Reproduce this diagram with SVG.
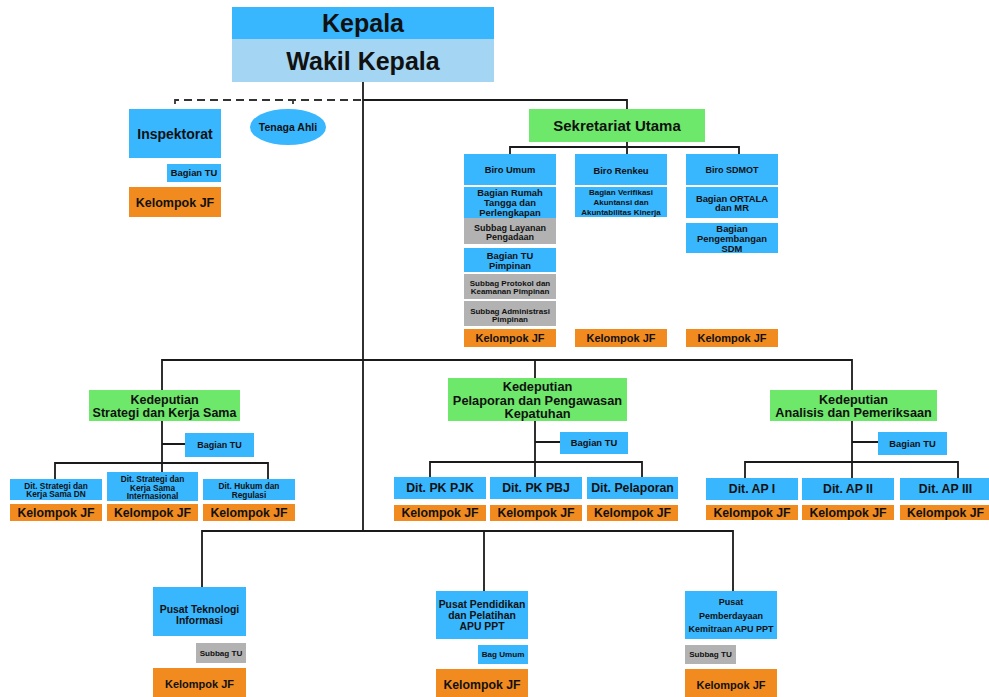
<svg xmlns="http://www.w3.org/2000/svg" width="989" height="697" viewBox="0 0 989 697">
  <style>
    .blue{fill:#38b6fe}
    .pale{fill:#a4d5f2}
    .green{fill:#6ee86a}
    .orange{fill:#f18b1f}
    .grey{fill:#b2b2b2}
    text{font-family:"Liberation Sans",Arial,Helvetica,sans-serif;font-weight:bold;fill:#111;text-anchor:middle}
    .wire{fill:none;stroke:#1a1a1a;stroke-width:1.8}
    .dash{fill:none;stroke:#333;stroke-width:1.8;stroke-dasharray:8 5}
    .f25{font-size:25px}
    .f15{font-size:15px}
    .f14{font-size:14px}
    .f13{font-size:12.8px}
    .f12{font-size:12.3px}
    .f11{font-size:11px}
    .f10{font-size:10.4px}
    .f95{font-size:9.4px}
    .f9{font-size:9px}
    .fdit{font-size:8.3px}
    .f8{font-size:8.1px}
  </style>

  <!-- connectors -->
  <g id="connectors">
    <path class="dash" d="M175,104 V100 H363 M293,104 V100"/>
    <path class="wire" d="M363,82 V531"/>
    <path class="wire" d="M363,100 H627 V109"/>
    <path class="wire" d="M627,142 V154 M510,154 V147 H739 V154"/>
    <path class="wire" d="M162,390 V360 H852 V390 M535,360 V378"/>
    <!-- strategi -->
    <path class="wire" d="M162,421 V463 M162,444 H185 M55,479 V463 H268 V479 M162,463 V472"/>
    <!-- pelaporan -->
    <path class="wire" d="M535,421 V462 M535,442 H560 M430,477 V462 H642 V477 M535,462 V477"/>
    <!-- analisis -->
    <path class="wire" d="M852,421 V462 M852,442 H878 M745,478 V462 H958 V478 M852,462 V478"/>
    <!-- pusat -->
    <path class="wire" d="M202,587 V531 H733 V591 M484,531 V591"/>
  </g>

  <!-- top leadership -->
  <g id="kepala">
    <rect class="blue" x="232" y="7" width="262" height="32"/>
    <text class="f25" x="363" y="32">Kepala</text>
  </g>
  <g id="wakil-kepala">
    <rect class="pale" x="232" y="39" width="262" height="43"/>
    <text class="f25" x="363" y="69.5">Wakil Kepala</text>
  </g>

  <!-- inspektorat -->
  <g id="inspektorat">
    <rect class="blue" x="129" y="109" width="92" height="49"/>
    <text class="f14" x="175" y="138.5">Inspektorat</text>
  </g>
  <g id="inspektorat-tu">
    <rect class="blue" x="167" y="164" width="54" height="18"/>
    <text class="f95" x="194" y="176.3">Bagian TU</text>
  </g>
  <g id="inspektorat-jf">
    <rect class="orange" x="129" y="187" width="92" height="30"/>
    <text style="font-size:12.5px" x="175" y="206.5">Kelompok JF</text>
  </g>
  <g id="tenaga-ahli">
    <ellipse class="blue" cx="288" cy="127" rx="38" ry="18"/>
    <text style="font-size:10.5px" x="288" y="130.7">Tenaga Ahli</text>
  </g>

  <!-- sekretariat utama -->
  <g id="sekretariat-utama">
    <rect class="green" x="529" y="109" width="176" height="33"/>
    <text class="f15" x="617" y="130.8">Sekretariat Utama</text>
  </g>

  <g id="biro-umum">
    <rect class="blue" x="464" y="154" width="92" height="31"/>
    <text class="f95" x="510" y="172.8">Biro Umum</text>
  </g>
  <g id="bagian-rumah-tangga">
    <rect class="blue" x="464" y="187" width="92" height="31"/>
    <text class="f95" x="510" y="195.6">Bagian Rumah</text>
    <text class="f95" x="510" y="205.6">Tangga dan</text>
    <text class="f95" x="510" y="215.6">Perlengkapan</text>
  </g>
  <g id="subbag-layanan-pengadaan">
    <rect class="grey" x="464" y="218" width="92" height="26"/>
    <text class="f9" x="510" y="230.5">Subbag Layanan</text>
    <text class="f9" x="510" y="240.2">Pengadaan</text>
  </g>
  <g id="bagian-tu-pimpinan">
    <rect class="blue" x="464" y="248" width="92" height="24"/>
    <text class="f95" x="510" y="259">Bagian TU</text>
    <text class="f95" x="510" y="269">Pimpinan</text>
  </g>
  <g id="subbag-protokol">
    <rect class="grey" x="464" y="274" width="92" height="25"/>
    <text style="font-size:8px" x="510" y="285.8">Subbag Protokol dan</text>
    <text style="font-size:8px" x="510" y="294.1">Keamanan Pimpinan</text>
  </g>
  <g id="subbag-administrasi">
    <rect class="grey" x="464" y="301" width="92" height="25"/>
    <text style="font-size:8px" x="510" y="313.5">Subbag Administrasi</text>
    <text style="font-size:8px" x="510" y="321.5">Pimpinan</text>
  </g>
  <g id="biro-umum-jf">
    <rect class="orange" x="464" y="329" width="92" height="18"/>
    <text class="f11" x="510" y="341.9">Kelompok JF</text>
  </g>

  <g id="biro-renkeu">
    <rect class="blue" x="575" y="154" width="92" height="31"/>
    <text class="f95" x="621" y="174">Biro Renkeu</text>
  </g>
  <g id="bagian-verifikasi">
    <rect class="blue" x="575" y="187" width="92" height="30"/>
    <text style="font-size:8px" x="621" y="195">Bagian Verifikasi</text>
    <text style="font-size:8px" x="621" y="205">Akuntansi dan</text>
    <text style="font-size:8px" x="621" y="215">Akuntabilitas Kinerja</text>
  </g>
  <g id="biro-renkeu-jf">
    <rect class="orange" x="575" y="329" width="92" height="18"/>
    <text class="f11" x="621" y="341.9">Kelompok JF</text>
  </g>

  <g id="biro-sdmot">
    <rect class="blue" x="686" y="154" width="92" height="31"/>
    <text class="f9" x="732" y="173.2">Biro SDMOT</text>
  </g>
  <g id="bagian-ortala">
    <rect class="blue" x="686" y="187" width="92" height="31"/>
    <text class="f95" x="732" y="201.6">Bagian ORTALA</text>
    <text class="f95" x="732" y="211.3">dan MR</text>
  </g>
  <g id="bagian-pengembangan-sdm">
    <rect class="blue" x="686" y="223" width="92" height="30"/>
    <text class="f95" x="732" y="231.6">Bagian</text>
    <text class="f95" x="732" y="241.6">Pengembangan</text>
    <text class="f95" x="732" y="251.6">SDM</text>
  </g>
  <g id="biro-sdmot-jf">
    <rect class="orange" x="686" y="329" width="92" height="18"/>
    <text class="f11" x="732" y="341.9">Kelompok JF</text>
  </g>

  <!-- kedeputian strategi dan kerja sama -->
  <g id="kedeputian-strategi">
    <rect class="green" x="89" y="390" width="151" height="31"/>
    <text style="font-size:12.5px" x="164.5" y="403.7">Kedeputian</text>
    <text style="font-size:12.5px" x="164.5" y="416.7">Strategi dan Kerja Sama</text>
  </g>
  <g id="strategi-tu">
    <rect class="blue" x="185" y="433" width="69" height="24"/>
    <text class="f9" x="219.5" y="448.2">Bagian TU</text>
  </g>
  <g id="dit-strategi-dn">
    <rect class="blue" x="10" y="479" width="92" height="21"/>
    <text class="fdit" x="56" y="488.5">Dit. Strategi dan</text>
    <text class="fdit" x="56" y="497.3">Kerja Sama DN</text>
  </g>
  <g id="dit-strategi-internasional">
    <rect class="blue" x="107" y="472" width="91" height="29"/>
    <text class="fdit" x="152.5" y="482.3">Dit. Strategi dan</text>
    <text class="fdit" x="152.5" y="490.8">Kerja Sama</text>
    <text class="fdit" x="152.5" y="499.2">Internasional</text>
  </g>
  <g id="dit-hukum">
    <rect class="blue" x="203" y="479" width="92" height="21"/>
    <text class="fdit" x="249" y="488.8">Dit. Hukum dan</text>
    <text class="fdit" x="249" y="497.5">Regulasi</text>
  </g>
  <g id="dit-strategi-dn-jf">
    <rect class="orange" x="10" y="504" width="92" height="17"/>
    <text class="f12" x="56" y="517">Kelompok JF</text>
  </g>
  <g id="dit-strategi-internasional-jf">
    <rect class="orange" x="107" y="504" width="91" height="17"/>
    <text class="f12" x="152.5" y="517">Kelompok JF</text>
  </g>
  <g id="dit-hukum-jf">
    <rect class="orange" x="203" y="504" width="92" height="17"/>
    <text class="f12" x="249" y="517">Kelompok JF</text>
  </g>

  <!-- kedeputian pelaporan dan pengawasan kepatuhan -->
  <g id="kedeputian-pelaporan">
    <rect class="green" x="448" y="378" width="179" height="43"/>
    <text class="f13" x="537.5" y="391.2">Kedeputian</text>
    <text class="f13" x="537.5" y="404.5">Pelaporan dan Pengawasan</text>
    <text class="f13" x="537.5" y="417.8">Kepatuhan</text>
  </g>
  <g id="pelaporan-tu">
    <rect class="blue" x="560" y="432" width="68" height="22"/>
    <text class="f95" x="594" y="446.3">Bagian TU</text>
  </g>
  <g id="dit-pk-pjk">
    <rect class="blue" x="394" y="477" width="92" height="22"/>
    <text class="f12" x="440" y="492.3">Dit. PK PJK</text>
  </g>
  <g id="dit-pk-pbj">
    <rect class="blue" x="490" y="477" width="92" height="22"/>
    <text class="f12" x="536" y="492.3">Dit. PK PBJ</text>
  </g>
  <g id="dit-pelaporan">
    <rect class="blue" x="587" y="477" width="91" height="22"/>
    <text class="f12" x="632.5" y="492.3">Dit. Pelaporan</text>
  </g>
  <g id="dit-pk-pjk-jf">
    <rect class="orange" x="394" y="505" width="92" height="16"/>
    <text class="f12" x="440" y="517.3">Kelompok JF</text>
  </g>
  <g id="dit-pk-pbj-jf">
    <rect class="orange" x="490" y="505" width="92" height="16"/>
    <text class="f12" x="536" y="517.3">Kelompok JF</text>
  </g>
  <g id="dit-pelaporan-jf">
    <rect class="orange" x="587" y="505" width="91" height="16"/>
    <text class="f12" x="632.5" y="517.3">Kelompok JF</text>
  </g>

  <!-- kedeputian analisis dan pemeriksaan -->
  <g id="kedeputian-analisis">
    <rect class="green" x="770" y="390" width="167" height="31"/>
    <text style="font-size:12.7px" x="853.5" y="403.5">Kedeputian</text>
    <text style="font-size:12.7px" x="853.5" y="416.8">Analisis dan Pemeriksaan</text>
  </g>
  <g id="analisis-tu">
    <rect class="blue" x="878" y="432" width="69" height="23"/>
    <text class="f95" x="912.5" y="446.8">Bagian TU</text>
  </g>
  <g id="dit-ap-1">
    <rect class="blue" x="706" y="478" width="92" height="22"/>
    <text class="f12" x="752" y="493.3">Dit. AP I</text>
  </g>
  <g id="dit-ap-2">
    <rect class="blue" x="802" y="478" width="92" height="22"/>
    <text class="f12" x="848" y="493.3">Dit. AP II</text>
  </g>
  <g id="dit-ap-3">
    <rect class="blue" x="900" y="478" width="91" height="22"/>
    <text class="f12" x="945.5" y="493.3">Dit. AP III</text>
  </g>
  <g id="dit-ap-1-jf">
    <rect class="orange" x="706" y="505" width="92" height="15"/>
    <text class="f12" x="752" y="517">Kelompok JF</text>
  </g>
  <g id="dit-ap-2-jf">
    <rect class="orange" x="802" y="505" width="92" height="15"/>
    <text class="f12" x="848" y="517">Kelompok JF</text>
  </g>
  <g id="dit-ap-3-jf">
    <rect class="orange" x="900" y="505" width="91" height="15"/>
    <text class="f12" x="945.5" y="517">Kelompok JF</text>
  </g>

  <!-- pusat -->
  <g id="pusat-ti">
    <rect class="blue" x="153" y="587" width="93" height="49"/>
    <text class="f10" x="199.5" y="613">Pusat Teknologi</text>
    <text class="f10" x="199.5" y="623.7">Informasi</text>
  </g>
  <g id="pusat-ti-subbag">
    <rect class="grey" x="196" y="643" width="50" height="20"/>
    <text class="f8" x="221" y="655.8">Subbag TU</text>
  </g>
  <g id="pusat-ti-jf">
    <rect class="orange" x="153" y="668" width="93" height="29"/>
    <text class="f11" x="199.5" y="687.8">Kelompok JF</text>
  </g>

  <g id="pusat-diklat">
    <rect class="blue" x="436" y="591" width="92" height="48"/>
    <text class="f10" x="482" y="608">Pusat Pendidikan</text>
    <text class="f10" x="482" y="619.3">dan Pelatihan</text>
    <text class="f10" x="482" y="630.3">APU PPT</text>
  </g>
  <g id="pusat-diklat-umum">
    <rect class="blue" x="478" y="645" width="50" height="19"/>
    <text class="f8" x="503" y="656.9">Bag Umum</text>
  </g>
  <g id="pusat-diklat-jf">
    <rect class="orange" x="436" y="669" width="92" height="28"/>
    <text class="f12" x="482" y="689.2">Kelompok JF</text>
  </g>

  <g id="pusat-pemberdayaan">
    <rect class="blue" x="685" y="591" width="92" height="48"/>
    <text class="f9" x="731" y="604.9">Pusat</text>
    <text class="f9" x="731" y="618.5">Pemberdayaan</text>
    <text class="f9" x="731" y="631.9">Kemitraan APU PPT</text>
  </g>
  <g id="pusat-pemberdayaan-subbag">
    <rect class="grey" x="685" y="645" width="51" height="19"/>
    <text class="f8" x="710.5" y="657.2">Subbag TU</text>
  </g>
  <g id="pusat-pemberdayaan-jf">
    <rect class="orange" x="685" y="669" width="92" height="28"/>
    <text class="f11" x="731" y="689">Kelompok JF</text>
  </g>
</svg>
